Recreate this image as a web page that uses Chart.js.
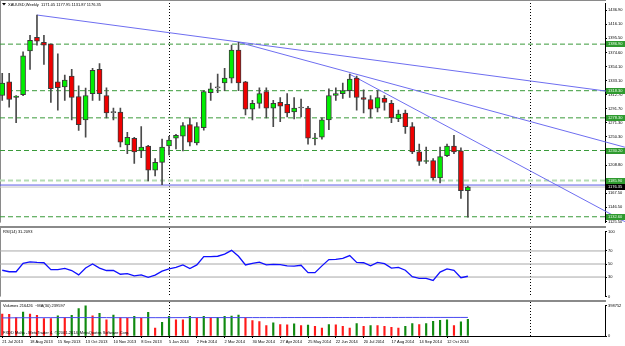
<!DOCTYPE html>
<html>
<head>
<meta charset="utf-8">
<script src="https://cdn.jsdelivr.net/npm/chart.js@4.4.1/dist/chart.umd.min.js"></script>
<style>
  html, body { margin: 0; padding: 0; background: #fff; }
  #wrap { position: relative; width: 625px; height: 346px; overflow: hidden; background: #fff; }
  canvas { position: absolute; left: 0; }
  .sep { position: absolute; left: 0; width: 606px; height: 2px; background: #8a8a8a; }
</style>
</head>
<body>
<div id="wrap">
  <canvas id="main" width="625" height="226" style="top:0"></canvas>
  <div class="sep" style="top:226px"></div>
  <canvas id="rsi" width="625" height="72" style="top:228px"></canvas>
  <div class="sep" style="top:300px"></div>
  <canvas id="vol" width="625" height="44" style="top:302px"></canvas>
</div>
<script>
// weekly bars, 21 Jul 2013 .. 2 Nov 2014
const opens = [1311.2,1331.2,1308.3,1312.6,1376.9,1396.9,1389.7,1386.9,1331.2,1324.0,
  1339.7,1309.7,1275.4,1314.0,1349.7,1311.2,1286.0,1286.9,1238.3,1248.3,
  1229.7,1236.9,1201.1,1212.6,1236.9,1248.3,1251.2,1268.3,1241.2,1264.0,
  1315.5,1322.5,1329.7,1336.9,1378.3,1331.2,1291.2,1299.7,1316.9,1292.6,
  1301.2,1298.3,1286.9,1292.8,1292.6,1247.5,1249.7,1275.4,1311.2,1314.0,
  1318.3,1336.9,1308.3,1305.4,1292.6,1306.9,1299.7,1276.9,1285.4,1265.4,
  1228.3,1214.0,1215.4,1189.7,1222.6,1236.9,1229.7,1171.05];
const highs = [1344.0,1344.0,1311.2,1375.5,1399.7,1429.8,1399.7,1387.5,1372.6,1341.2,
  1349.7,1325.5,1322.0,1351.2,1358.3,1322.6,1292.6,1292.6,1256.9,1249.7,
  1265.4,1238.0,1218.3,1246.9,1251.2,1254.0,1271.2,1278.3,1271.2,1318.3,
  1329.7,1342.6,1351.2,1385.5,1389.7,1332.0,1304.0,1322.6,1322.6,1304.0,
  1308.3,1314.0,1308.3,1306.0,1295.4,1255.4,1278.3,1321.2,1322.6,1329.7,
  1342.6,1339.7,1319.7,1311.2,1318.3,1311.2,1304.0,1289.7,1289.7,1271.2,
  1239.7,1235.4,1218.3,1235.4,1239.7,1252.6,1234.0,1177.95];
const lows = [1304.0,1294.0,1271.2,1311.0,1349.7,1385.5,1356.9,1301.2,1289.7,1304.0,
  1275.4,1259.7,1249.7,1304.0,1304.0,1278.3,1275.4,1235.4,1225.4,1211.1,
  1219.7,1185.4,1192.6,1179.7,1223.8,1232.6,1229.7,1236.9,1238.3,1260.0,
  1304.0,1315.5,1318.3,1329.7,1318.3,1282.6,1275.4,1292.6,1278.3,1265.4,
  1272.6,1279.7,1276.9,1279.7,1239.7,1238.3,1246.9,1261.0,1304.0,1306.9,
  1308.3,1289.7,1285.4,1278.3,1286.9,1289.7,1271.2,1272.6,1255.4,1225.4,
  1208.3,1211.1,1186.9,1182.6,1221.1,1225.4,1159.7,1131.87];
const closes = [1329.7,1305.4,1310.5,1369.7,1392.6,1391.2,1385.5,1321.2,1322.6,1334.0,
  1308.3,1268.3,1311.2,1348.3,1314.0,1285.4,1286.0,1242.6,1249.7,1228.3,
  1235.4,1201.1,1212.6,1235.4,1245.4,1252.6,1266.9,1242.6,1265.4,1316.9,
  1321.2,1322.5,1336.9,1378.3,1329.7,1291.2,1299.7,1314.0,1292.6,1299.7,
  1295.4,1285.4,1292.6,1292.8,1248.3,1249.0,1275.4,1311.2,1314.0,1318.3,
  1335.5,1308.3,1305.4,1291.2,1308.3,1301.2,1278.3,1284.0,1265.4,1228.3,
  1214.0,1215.4,1189.7,1221.1,1236.9,1228.3,1171.1,1176.35];

const rsiValues = [40.4,38.1,38.1,51.0,53.3,52.4,51.9,41.4,41.4,43.3,
  40.0,33.3,43.8,50.0,43.8,40.0,40.0,34.3,35.2,31.9,
  33.3,29.5,32.9,39.0,42.4,44.8,48.6,42.9,48.6,61.4,
  61.4,61.9,65.2,71.0,61.9,48.6,51.0,52.9,48.6,49.5,
  49.0,47.1,46.7,48.1,36.7,36.7,47.1,56.7,57.1,58.6,
  62.9,52.4,51.9,47.1,52.4,50.5,43.8,44.8,40.4,30.5,
  28.1,28.1,24.8,37.6,42.4,40.4,29.0,31.2];

const volumes = [286000,282000,240500,311500,286600,270400,228000,226500,261700,240500,
  270400,357600,398752,261700,295300,211800,274100,240500,233000,257900,
  233000,307800,103400,178200,257900,211800,209500,257900,233000,257900,
  240500,243000,257900,260500,274100,240500,199400,186900,137100,170700,
  149500,147000,158300,137100,140800,124600,103400,149500,145800,124600,
  103400,162000,124600,137100,135000,124600,112100,103400,124600,162000,
  149500,162000,190700,203100,211800,137100,183200,216426];
const volumeMA = [236000,236000,238000,238000,238000,239000,239000,239000,239500,240000,
  240000,240000,240000,240000,240000,239500,239000,239000,239000,239000,
  239000,239000,239000,239000,239000,239500,240000,240000,240000,240000,
  240000,240000,240000,240000,240000,240000,240000,240000,240000,240000,
  240000,240500,240500,240500,240500,240500,240500,241000,241000,241000,
  241000,241000,241000,241500,241500,241500,241500,241500,242000,242000,
  242000,242000,242000,242000,242000,242000,242000,242000];

const priceTicks = [1436.90,1416.10,1395.50,1374.60,1354.10,1333.10,1312.70,1291.70,
  1271.30,1250.30,1229.30,1208.80,1187.50,1167.50,1146.50,1125.50];
const rsiTicks = [0, 30, 50, 70, 100];
const rsiLevels = [70, 50, 30];
const volTicks = [0, 398752];

const dateTickBars = [0,4,8,12,16,20,24,28,32,36,40,44,48,52,56,60,64];
const dateLabels = ['21 Jul 2013','18 Aug 2013','15 Sep 2013','13 Oct 2013','10 Nov 2013',
  '8 Dec 2013','5 Jan 2014','2 Feb 2014','2 Mar 2014','30 Mar 2014','27 Apr 2014',
  '25 May 2014','22 Jun 2014','20 Jul 2014','17 Aug 2014','14 Sep 2014','12 Oct 2014'];
const yearSeparators = [24, 76];

const levelPrices = [1386.90, 1318.30, 1278.30, 1230.20, 1132.60];
const weakLevel = 1185.90;
const blueLevel = 1179.30;
// [fromBar, fromPrice, toBar, toPrice]
const trendLines = [
  [5, 1429.8, 89.6, 1314.0],
  [34, 1389.7, 89.6, 1235.0],
  [50, 1342.6, 89.6, 1125.4]
];

const headerText = 'XAUUSD,Weekly  1171.05 1177.95 1131.87 1176.35';
const rsiText = 'RSI(14) 31.2093';
const volText = 'Volumes 216426  ~MA(30) 239597';
const copyText = 'FXDD Malta - MetaTrader 4, \u00a9 2001-2014, MetaQuotes Software Corp.';

const X_MIN = -0.32, X_MAX = 86.73;
const FONT = 'Liberation Sans';
const BULL = '#00ee00', BEAR = '#f00000', DOJI = '#9a9a9a';
const LEVEL_GREEN = '#3a9a3a';

Chart.defaults.font.family = FONT;
Chart.defaults.font.size = 4;
Chart.defaults.color = '#000';

function hiddenX() {
  return { type: 'linear', min: X_MIN, max: X_MAX, offset: false, display: false };
}

function rightAxis(min, max, ticks, fmt) {
  return {
    position: 'right', min: min, max: max, bounds: 'data',
    afterBuildTicks: s => { s.ticks = ticks.map(v => ({ value: v })); },
    afterFit: s => { s.width = 20; },
    grid: { drawOnChartArea: false, tickLength: 2, color: '#000' },
    border: { color: '#000' },
    ticks: { autoSkip: false, padding: 1, color: '#000', font: { size: 4 }, callback: fmt }
  };
}

function hline(value, color, width, dash) {
  return {
    type: 'line', data: [{ x: X_MIN, y: value }, { x: X_MAX, y: value }],
    borderColor: color, borderWidth: width, borderDash: dash || [],
    pointRadius: 0, order: 5
  };
}

const yearLines = {
  id: 'yearLines',
  beforeDatasetsDraw(chart) {
    const ctx = chart.ctx, xs = chart.scales.x;
    ctx.save();
    ctx.strokeStyle = '#000';
    ctx.lineWidth = 1;
    ctx.setLineDash([1, 2]);
    yearSeparators.forEach(b => {
      const px = Math.round(xs.getPixelForValue(b)) + 0.5;
      ctx.beginPath();
      ctx.moveTo(px, 0);
      ctx.lineTo(px, chart.chartArea.bottom);
      ctx.stroke();
    });
    ctx.setLineDash([]);
    ctx.strokeStyle = '#8a8a8a';
    ctx.beginPath();
    ctx.moveTo(0.5, 0);
    ctx.lineTo(0.5, chart.chartArea.bottom);
    ctx.stroke();
    ctx.restore();
  }
};

function panelText(items) {
  return {
    id: 'panelText',
    afterDraw(chart) {
      const ctx = chart.ctx;
      ctx.save();
      ctx.font = '4px "' + FONT + '"';
      ctx.fillStyle = '#000';
      ctx.textBaseline = 'middle';
      ctx.textAlign = 'left';
      items.forEach(t => ctx.fillText(t[0], t[1], t[2]));
      ctx.restore();
    }
  };
}

function priceBox(ctx, y, text, bg, fg) {
  ctx.fillStyle = bg;
  ctx.fillRect(606, Math.round(y) - 3, 19, 6);
  ctx.fillStyle = fg;
  ctx.fillText(text, 608, Math.round(y));
}

const mainDecor = {
  id: 'mainDecor',
  afterDraw(chart) {
    const ctx = chart.ctx, ys = chart.scales.y;
    ctx.save();
    ctx.font = '4px "' + FONT + '"';
    ctx.textBaseline = 'middle';
    ctx.textAlign = 'left';
    levelPrices.concat([weakLevel]).forEach(p => {
      priceBox(ctx, ys.getPixelForValue(p), p.toFixed(2), '#2f9a2f', '#eaffea');
    });
    const bid = closes[closes.length - 1];
    priceBox(ctx, ys.getPixelForValue(bid), bid.toFixed(2), '#000', '#fff');
    // header
    ctx.fillStyle = '#000';
    ctx.beginPath();
    ctx.moveTo(2, 3); ctx.lineTo(6, 3); ctx.lineTo(4, 5.5); ctx.closePath();
    ctx.fill();
    ctx.fillText(headerText, 8, 4.5);
    ctx.strokeStyle = '#8a8a8a';
    ctx.beginPath(); ctx.moveTo(0, 0.5); ctx.lineTo(606, 0.5); ctx.stroke();
    ctx.restore();
  }
};

const candleColors = opens.map((o, i) => closes[i] > o ? BULL : (closes[i] < o ? BEAR : DOJI));

const mainDatasets = [];
levelPrices.forEach(p => mainDatasets.push(hline(p, LEVEL_GREEN, 1, [5, 3])));
mainDatasets.push(hline(weakLevel, '#b4dcb4', 2, [5, 3]));
mainDatasets.push(hline(blueLevel, '#5a5ae6', 1));
mainDatasets.push(hline(closes[closes.length - 1], '#c4c4c4', 1));
trendLines.forEach(t => mainDatasets.push({
  type: 'line', data: [{ x: t[0], y: t[1] }, { x: t[2], y: t[3] }],
  borderColor: '#6e6ef0', borderWidth: 1, pointRadius: 0, clip: false, order: 4
}));
mainDatasets.push({
  type: 'bar', data: highs.map((h, i) => ({ x: i, y: [lows[i], h] })),
  backgroundColor: '#4a4a4a', barThickness: 1, grouped: false, order: 2
});
mainDatasets.push({
  type: 'bar', data: opens.map((o, i) => ({ x: i, y: [o, closes[i]] })),
  backgroundColor: candleColors, borderColor: '#3a3a3a', borderWidth: 1,
  borderSkipped: false, barThickness: 5, minBarLength: 1, grouped: false, order: 1
});

const baseOptions = {
  responsive: false, animation: false, events: [],
  plugins: { legend: { display: false }, tooltip: { enabled: false } }
};

new Chart(document.getElementById('main'), {
  type: 'bar',
  data: { datasets: mainDatasets },
  options: Object.assign({}, baseOptions, {
    layout: { padding: 0 },
    scales: {
      x: hiddenX(),
      y: rightAxis(1124.0, 1446.9, priceTicks, v => v.toFixed(2))
    }
  }),
  plugins: [yearLines, mainDecor]
});

const rsiDatasets = rsiLevels.map(l => hline(l, '#a8a8a8', 1));
rsiDatasets.push({
  type: 'line', data: rsiValues.map((v, i) => ({ x: i, y: v })),
  borderColor: '#1010ff', borderWidth: 1.3, pointRadius: 0, tension: 0, order: 1
});

new Chart(document.getElementById('rsi'), {
  type: 'line',
  data: { datasets: rsiDatasets },
  options: Object.assign({}, baseOptions, {
    layout: { padding: { top: 1, bottom: 1 } },
    scales: {
      x: hiddenX(),
      y: rightAxis(0, 100, rsiTicks, v => String(v))
    }
  }),
  plugins: [yearLines, panelText([[rsiText, 3, 4]])]
});

const volColors = volumes.map((v, i) => (i > 0 && v > volumes[i - 1]) ? '#108a10' : '#ff1a1a');

new Chart(document.getElementById('vol'), {
  type: 'bar',
  data: { datasets: [
    { type: 'bar', data: volumes.map((v, i) => ({ x: i, y: v })), backgroundColor: volColors,
      barThickness: 1.5, grouped: false, order: 2 },
    { type: 'line', data: volumeMA.map((v, i) => ({ x: i, y: v })), borderColor: '#4848f0',
      borderWidth: 1, pointRadius: 0, order: 1 }
  ] },
  options: Object.assign({}, baseOptions, {
    layout: { padding: { top: 2 } },
    scales: {
      x: {
        type: 'linear', min: X_MIN, max: X_MAX, offset: false,
        afterBuildTicks: s => { s.ticks = dateTickBars.map(v => ({ value: v })); },
        afterFit: s => { s.height = 10; },
        grid: { drawOnChartArea: false, offset: false, tickLength: 2, color: '#000' },
        border: { color: '#000' },
        ticks: { autoSkip: false, maxRotation: 0, minRotation: 0, align: 'start', padding: 1,
          color: '#000', font: { size: 4 }, callback: (v, i) => dateLabels[i] }
      },
      y: rightAxis(0, 398752, volTicks, v => String(v))
    }
  }),
  plugins: [yearLines, panelText([[volText, 3, 4], [copyText, 3, 31]])]
});
</script>
</body>
</html>
